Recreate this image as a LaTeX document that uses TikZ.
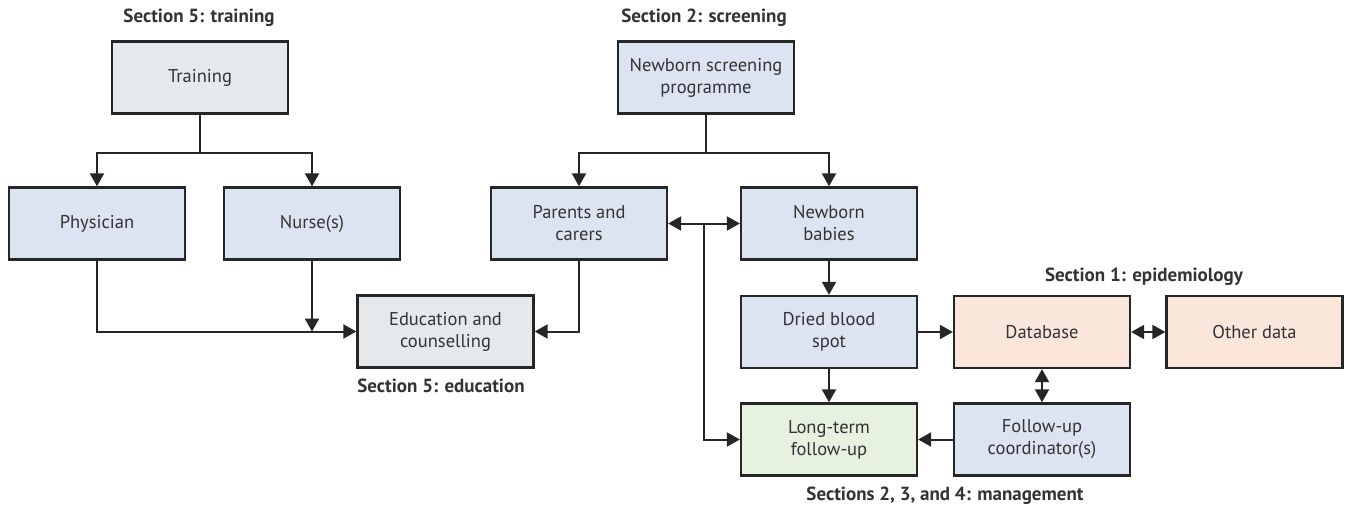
\documentclass[tikz,border=0pt]{standalone}
\usepackage{fontspec}
\setmainfont{PT Sans}
\usetikzlibrary{arrows.meta,calc}
\definecolor{boxblue}{HTML}{DCE3F1}
\definecolor{boxgray}{HTML}{E6E9EC}
\definecolor{boxpeach}{HTML}{FBE6DB}
\definecolor{boxgreen}{HTML}{E7F1E0}
\definecolor{linecol}{HTML}{262626}
\definecolor{txtcol}{HTML}{333333}
\begin{document}
\begin{tikzpicture}[x=1pt,y=-1pt,
  every node/.style={font=\fontsize{18.5}{22}\selectfont, text=txtcol},
  box/.style={draw=linecol, line width=2.3pt, minimum width=176pt, minimum height=72pt, inner sep=0pt, align=center},
  bluebox/.style={box, fill=boxblue},
  graybox/.style={box, fill=boxgray},
  peachbox/.style={box, fill=boxpeach},
  greenbox/.style={box, fill=boxgreen},
  seclabel/.style={font=\fontsize{19}{22}\selectfont\bfseries, text=txtcol},
  conn/.style={draw=linecol, line width=2pt},
  arr/.style={conn, -{Triangle[length=13pt,width=14pt]}},
  darr/.style={conn, {Triangle[length=13pt,width=14pt]}-{Triangle[length=13pt,width=14pt]}}
]
\useasboundingbox (0,0) rectangle (1350,514);
% nodes
\node[graybox] (train) at (200,77.5) {Training};
\node[bluebox] (phys) at (97,223.5) {Physician};
\node[bluebox] (nurse) at (312,223.5) {Nurse(s)};
\node[graybox] (edu) at (445.5,331.5) {Education and\\counselling};
\node[bluebox] (nsp) at (706,77.5) {Newborn screening\\programme};
\node[bluebox] (par) at (579,223.5) {Parents and\\carers};
\node[bluebox] (nbb) at (829,223.5) {Newborn\\babies};
\node[bluebox] (dbs) at (829,332) {Dried blood\\spot};
\node[peachbox] (db) at (1042,332) {Database};
\node[peachbox] (oth) at (1254.5,332) {Other data};
\node[greenbox] (ltf) at (829,439.5) {Long-term\\follow-up};
\node[bluebox] (fuc) at (1042,439.5) {Follow-up\\coordinator(s)};
% labels
\node[seclabel] (l1) at (199,18) {Section 5: training};
\node[seclabel] (l2) at (704,18) {Section 2: screening};
\node[seclabel] (l3) at (1144,277) {Section 1: epidemiology};
\node[seclabel] (l4) at (441,386) {Section 5: education};
\node[seclabel] (l5) at (945,496) {Sections 2, 3, and 4: management};
% helper coordinates
\coordinate (tj) at (200,153);
\coordinate (sj) at (706,153);
\coordinate (pj) at (704,223.5);
% connectors
\draw[conn] (train.south) -- (tj);
\draw[arr] (tj) -| (phys.north);
\draw[arr] (tj) -| (nurse.north);
\draw[arr] (phys.south) |- (edu.west);
\draw[arr] (nurse.south) -- (nurse.south |- edu.west);
\draw[arr] (par.south) |- (edu.east);
\draw[conn] (nsp.south) -- (sj);
\draw[arr] (sj) -| (par.north);
\draw[arr] (sj) -| (nbb.north);
\draw[darr] (par.east) -- (nbb.west);
\draw[arr] (pj) |- (ltf.west);
\draw[arr] (nbb.south) -- (dbs.north);
\draw[arr] (dbs.east) -- (db.west);
\draw[darr] (db.east) -- (oth.west);
\draw[arr] (dbs.south) -- (ltf.north);
\draw[darr] (db.south) -- (fuc.north);
\draw[arr] (fuc.west) -- (ltf.east);
\end{tikzpicture}
\end{document}
